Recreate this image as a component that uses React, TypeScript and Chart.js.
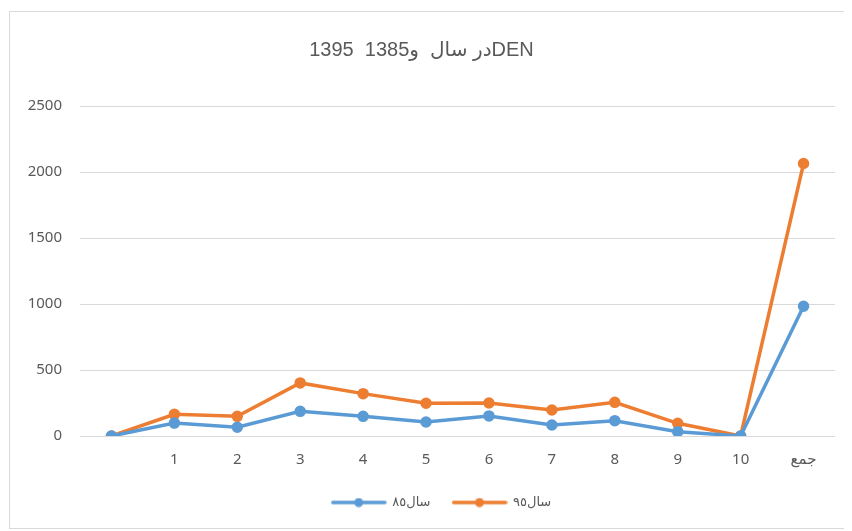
import React, { useEffect, useRef } from "react";
import { Chart, registerables } from "chart.js";

Chart.register(...registerables);

const categories = ["", "1", "2", "3", "4", "5", "6", "7", "8", "9", "10", "جمع"];
const series85 = [0, 98, 66, 187, 149, 106, 152, 83, 116, 33, 0, 983];
const series95 = [0, 164, 149, 402, 321, 248, 250, 197, 255, 96, 0, 2064];
const label85 = "سال٨٥";
const label95 = "سال٩٥";
const yMin = 0;
const yMax = 2500;
const yStep = 500;
const titleText = "1395  1385\u200Eو\u200E  در سال\u200EDEN";

const BLUE = "#5B9BD5";
const ORANGE = "#ED7D31";
const GRID = "#d9d9d9";
const TEXT = "#595959";

function makeMarker(color: string): HTMLCanvasElement {
  const c = document.createElement("canvas");
  c.width = 56;
  c.height = 10;
  const ctx = c.getContext("2d")!;
  ctx.strokeStyle = color;
  ctx.lineWidth = 3.5;
  ctx.lineCap = "round";
  ctx.beginPath();
  ctx.moveTo(2, 5);
  ctx.lineTo(54, 5);
  ctx.stroke();
  ctx.fillStyle = color;
  ctx.beginPath();
  ctx.arc(28, 5, 4.5, 0, Math.PI * 2);
  ctx.fill();
  return c;
}

const framePlugin = {
  id: "frame",
  beforeDraw(chart: any) {
    const ctx = chart.ctx;
    ctx.save();
    ctx.fillStyle = "#ffffff";
    ctx.fillRect(0, 0, chart.width, chart.height);
    ctx.strokeStyle = GRID;
    ctx.lineWidth = 1;
    ctx.strokeRect(1.5, 3.5, 841, 517);
    ctx.restore();
  },
};

const legendShiftPlugin = {
  id: "legendShift",
  afterLayout(chart: any) {
    if (chart.legend) {
      chart.legend.left += 20;
      chart.legend.right += 20;
    }
  },
};

export default function App() {
  const ref = useRef<HTMLCanvasElement>(null);
  useEffect(() => {
    if (!ref.current) return;
    const markers = [makeMarker(BLUE), makeMarker(ORANGE)];
    const chart = new Chart(ref.current, {
      type: "line",
      data: {
        labels: categories,
        datasets: [
          {
            label: label85,
            data: series85,
            borderColor: BLUE,
            backgroundColor: BLUE,
            borderWidth: 3.5,
            pointRadius: 4,
            pointBackgroundColor: BLUE,
            pointBorderColor: BLUE,
            tension: 0,
          },
          {
            label: label95,
            data: series95,
            borderColor: ORANGE,
            backgroundColor: ORANGE,
            borderWidth: 3.5,
            pointRadius: 4,
            pointBackgroundColor: ORANGE,
            pointBorderColor: ORANGE,
            tension: 0,
          },
        ],
      },
      options: {
        responsive: false,
        animation: false,
        maintainAspectRatio: false,
        layout: { padding: { left: 0, right: 17, top: 0, bottom: 12 } },
        plugins: {
          title: {
            display: true,
            text: titleText,
            color: TEXT,
            font: { family: "'Liberation Sans', 'DejaVu Sans', sans-serif", size: 20, weight: "normal" },
            padding: { top: 30, bottom: 44 },
          },
          legend: {
            display: true,
            position: "bottom",
            labels: {
              usePointStyle: true,
              pointStyleWidth: 54,
              color: TEXT,
              font: { family: "'Noto Sans', 'DejaVu Sans', sans-serif", size: 13 },
              padding: 22,
              generateLabels: (ch: any) =>
                ch.data.datasets.map((ds: any, i: number) => ({
                  text: ds.label,
                  fillStyle: ds.borderColor,
                  strokeStyle: ds.borderColor,
                  pointStyle: markers[i],
                  datasetIndex: i,
                  hidden: false,
                  lineWidth: 0,
                  fontColor: TEXT,
                })),
            },
          },
          tooltip: { enabled: false },
        },
        scales: {
          x: {
            offset: true,
            grid: { display: false, drawTicks: false },
            border: { display: false },
            ticks: {
              color: TEXT,
              padding: 15,
              maxRotation: 0,
              autoSkip: false,
              font: { family: "'Noto Sans', 'DejaVu Sans', sans-serif", size: 15 },
            },
            afterFit: (s: any) => {
              s.height = 38;
            },
          },
          y: {
            min: yMin,
            max: yMax,
            grid: { color: GRID, lineWidth: 1, drawTicks: false },
            border: { display: false },
            ticks: {
              stepSize: yStep,
              color: TEXT,
              padding: 18,
              font: { family: "'Noto Sans', 'DejaVu Sans', sans-serif", size: 15 },
              callback: (v: any) => String(v),
            },
            afterFit: (s: any) => {
              s.width = 72;
            },
          },
        },
      },
      plugins: [framePlugin, legendShiftPlugin],
    });
    return () => chart.destroy();
  }, []);
  return <canvas ref={ref} width={844} height={523} style={{ display: "block", width: 844, height: 523 }} />;
}
